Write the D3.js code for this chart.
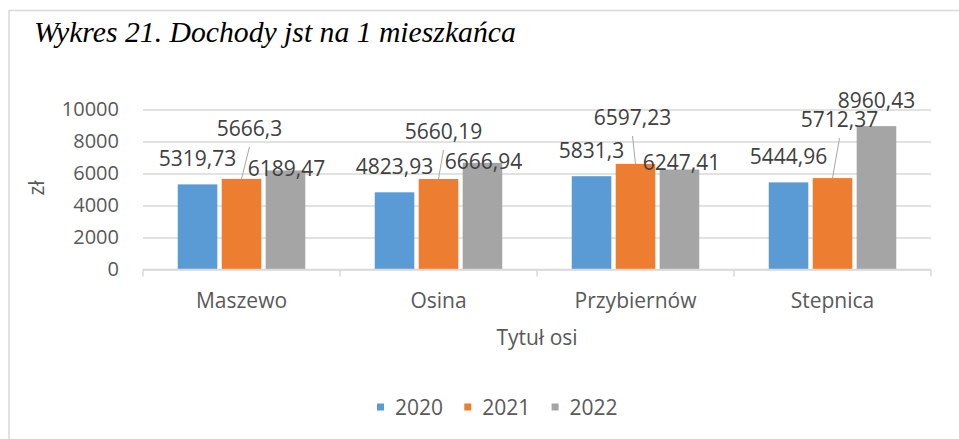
<!DOCTYPE html>
<html>
<head>
    <title>Dochody jst na 1 mieszkańca</title>
    <script src="https://d3js.org/d3.v7.min.js"></script>
    <style>
        body { margin: 0; background: #fff; }
        .axis text { font-family: "Open Sans", sans-serif; fill: #595959; }
        .label { font-family: "Open Sans", sans-serif; font-size: 21px; fill: #404040; }
    </style>
</head>
<body>
<div id="chart"></div>
<script>
    // data
    var categories = ["Maszewo", "Osina", "Przybiernów", "Stepnica"];
    var years = ["2020", "2021", "2022"];
    var values2020 = [5319.73, 4823.93, 5831.3, 5444.96];
    var values2021 = [5666.3, 5660.19, 6597.23, 5712.37];
    var values2022 = [6189.47, 6666.94, 6247.41, 8960.43];
    var yTicks = [0, 2000, 4000, 6000, 8000, 10000];
    var colors = ["#5b9bd5", "#ed7d31", "#a5a5a5"];

    // manual label moves (dx, dy from default spot), as in the original
    var labelMoves = {
        "2021": [[8, -25], [5, -22], [-3, -21], [7, -33]],
        "2022": [[1, 24], [1, 24], [2, 18], [0, 0]]
    };

    var series = [values2020, values2021, values2022];

    var width = 959, height = 439;
    var plot = { left: 143, right: 931, top: 109.5, bottom: 269.5 };

    var svg = d3.select("#chart").append("svg")
        .attr("width", width)
        .attr("height", height);

    // chart frame
    svg.append("rect")
        .attr("x", 9).attr("y", 10.5)
        .attr("width", 1000).attr("height", 500)
        .attr("fill", "none")
        .attr("stroke", "#d9d9d9")
        .attr("stroke-width", 1.5);

    // title
    svg.append("text")
        .attr("x", 34).attr("y", 42)
        .style("font-family", "'Liberation Serif', 'Times New Roman', serif")
        .style("font-style", "italic")
        .style("font-size", "29.7px")
        .style("fill", "#000")
        .text("Wykres 21. Dochody jst na 1 mieszkańca");

    var x0 = d3.scaleBand()
        .domain(categories)
        .range([plot.left, plot.right]);

    var x1 = d3.scaleBand()
        .domain(years)
        .range([0, x0.bandwidth()])
        .paddingInner(0.1)
        .paddingOuter(0.79);

    var y = d3.scaleLinear()
        .domain([0, 10000])
        .range([plot.bottom, plot.top]);

    // gridlines
    svg.append("g")
        .attr("transform", "translate(" + plot.left + ",0)")
        .call(d3.axisLeft(y).tickValues(yTicks).tickSize(-(plot.right - plot.left)).tickFormat(""))
        .call(g => g.select(".domain").remove())
        .call(g => g.selectAll("line").attr("stroke", "#d9d9d9").attr("stroke-width", 1.3));

    // y axis labels
    svg.append("g")
        .attr("class", "axis")
        .attr("transform", "translate(" + plot.left + ",0)")
        .call(d3.axisLeft(y).tickValues(yTicks).tickSize(0).tickPadding(24).tickFormat(d3.format("d")))
        .call(g => g.select(".domain").remove())
        .call(g => g.selectAll("text").style("font-size", "20px"));

    // bars
    var groups = svg.selectAll(".grp")
        .data(categories)
        .enter().append("g")
        .attr("class", "grp")
        .attr("transform", d => "translate(" + x0(d) + ",0)");

    groups.selectAll("rect")
        .data((c, i) => years.map((yr, j) => ({ year: yr, j: j, value: series[j][i] })))
        .enter().append("rect")
        .attr("x", d => x1(d.year))
        .attr("y", d => y(d.value))
        .attr("width", x1.bandwidth())
        .attr("height", d => y(0) - y(d.value))
        .attr("fill", d => colors[d.j]);

    // x axis line + category boundary ticks
    svg.append("line")
        .attr("x1", plot.left).attr("x2", plot.right)
        .attr("y1", plot.bottom).attr("y2", plot.bottom)
        .attr("stroke", "#d9d9d9").attr("stroke-width", 1.5);

    svg.selectAll(".sep")
        .data(categories.concat([null]))
        .enter().append("line")
        .attr("class", "sep")
        .attr("x1", (d, i) => i < categories.length ? x0(d) : plot.right)
        .attr("x2", (d, i) => i < categories.length ? x0(d) : plot.right)
        .attr("y1", plot.bottom).attr("y2", plot.bottom + 7)
        .attr("stroke", "#d9d9d9").attr("stroke-width", 1.5);

    // x axis labels
    svg.append("g")
        .attr("class", "axis")
        .attr("transform", "translate(0," + plot.bottom + ")")
        .call(d3.axisBottom(x0).tickSize(0).tickPadding(23.5))
        .call(g => g.select(".domain").remove())
        .call(g => g.selectAll("text").style("font-size", "21px"));

    // data labels
    var fmt = v => String(v).replace(".", ",");
    categories.forEach(function(c, i) {
        years.forEach(function(yr, j) {
            var v = series[j][i];
            var cx = x0(c) + x1(yr) + x1.bandwidth() / 2;
            var mv = labelMoves[yr] ? labelMoves[yr][i] : [0, 0];
            var lx = cx + mv[0];
            var ly = y(v) - 18 + mv[1];
            if (yr === "2021") {
                svg.append("line")
                    .attr("x1", lx).attr("y1", ly + 11)
                    .attr("x2", cx).attr("y2", y(v))
                    .attr("stroke", "#a6a6a6").attr("stroke-width", 1);
            }
            svg.append("text")
                .attr("class", "label")
                .attr("x", lx).attr("y", ly)
                .attr("text-anchor", "middle")
                .text(fmt(v));
        });
    });

    // axis titles
    svg.append("text")
        .attr("x", (plot.left + plot.right) / 2).attr("y", 345)
        .attr("text-anchor", "middle")
        .style("font-family", "'Open Sans', sans-serif")
        .style("font-size", "21px")
        .style("fill", "#595959")
        .text("Tytuł osi");

    svg.append("text")
        .attr("transform", "translate(44,188) rotate(-90)")
        .attr("text-anchor", "middle")
        .style("font-family", "'Open Sans', sans-serif")
        .style("font-size", "21px")
        .style("fill", "#595959")
        .text("zł");

    // legend
    var legend = svg.append("g").attr("transform", "translate(377,0)");
    var item = legend.selectAll(".leg")
        .data(years)
        .enter().append("g")
        .attr("class", "leg")
        .attr("transform", (d, i) => "translate(" + (i * 87.3) + ",0)");
    item.append("rect")
        .attr("x", 0).attr("y", 403.5)
        .attr("width", 7).attr("height", 7)
        .attr("fill", (d, i) => colors[i]);
    item.append("text")
        .attr("x", 18).attr("y", 415)
        .style("font-family", "'Open Sans', sans-serif")
        .style("font-size", "21px")
        .style("fill", "#595959")
        .text(d => d);
</script>
</body>
</html>
